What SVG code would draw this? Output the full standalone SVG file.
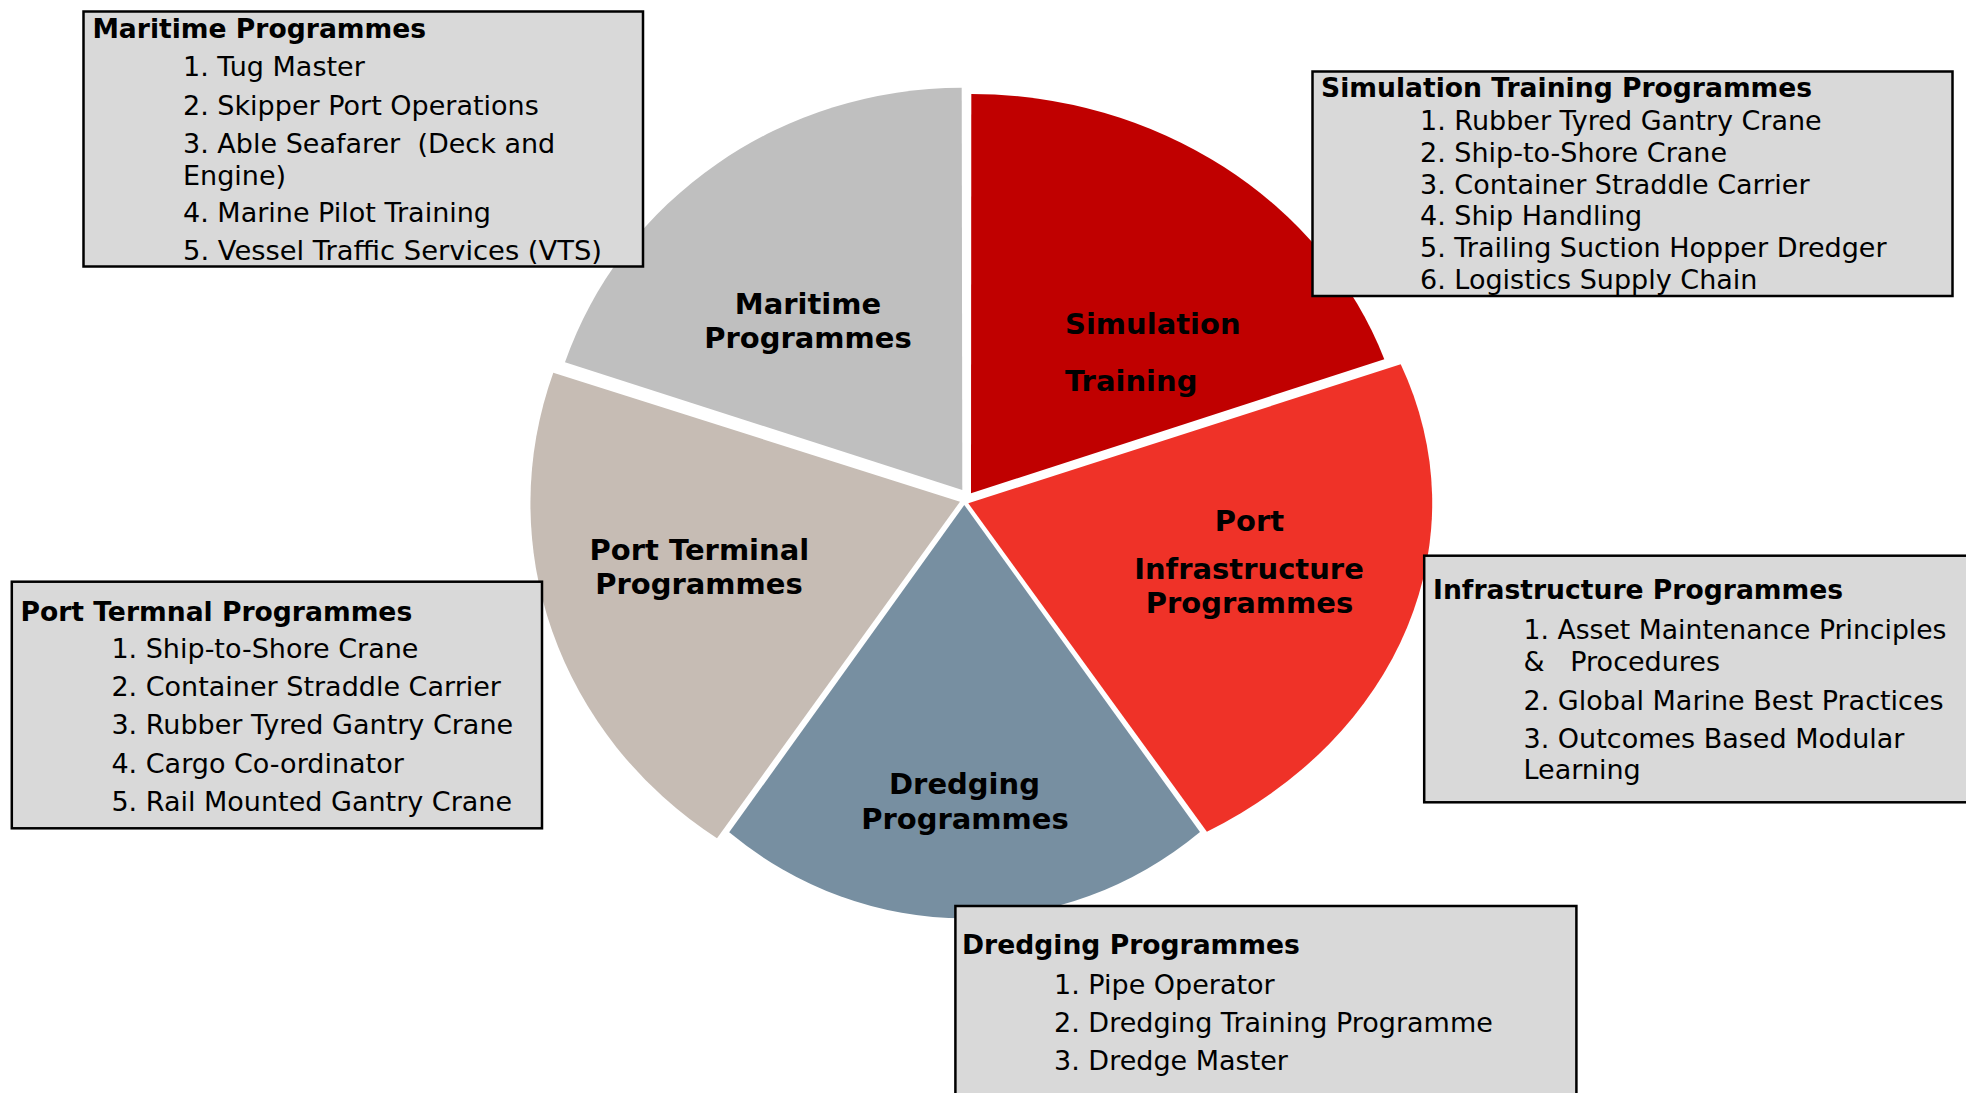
<svg xmlns="http://www.w3.org/2000/svg" width="1966" height="1093" viewBox="0 0 1966 1093">
<style>
.box{fill:#D9D9D9;stroke:#000;stroke-width:2.5}
.t{font-family:"DejaVu Sans","Verdana",sans-serif;font-size:27px;fill:#000}
.h{font-family:"DejaVu Sans","Verdana",sans-serif;font-size:26.6px;font-weight:bold;fill:#000}
.pl{font-family:"DejaVu Sans","Verdana",sans-serif;font-size:29px;font-weight:bold;fill:#000;text-anchor:middle}
</style>
<rect width="1966" height="1093" fill="#fff"/>
<g id="pie">
<g id="slice-maritime">
<path d="M962.3,490 L565,362.3 A419,402.3 0 0 1 961.7,87.7 Z" fill="#BFBFBF"/>
<text class="pl" x="808" y="314">Maritime</text>
<text class="pl" x="808" y="347.5">Programmes</text>
</g>
<g id="slice-simulation">
<path d="M971,493.3 L971.3,94 A438.7,399.3 0 0 1 1384.3,359.3 Z" fill="#C00000"/>
<text class="pl" x="1065" y="334" style="text-anchor:start">Simulation</text>
<text class="pl" x="1065" y="390.5" style="text-anchor:start">Training</text>
</g>
<g id="slice-infrastructure">
<path d="M968.3,503.3 L1400.7,364.3 A463.4,383 0 0 1 1206.9,831.7 Z" fill="#EF3228"/>
<text class="pl" x="1249.5" y="531">Port</text>
<text class="pl" x="1249" y="578.5">Infrastructure</text>
<text class="pl" x="1249.5" y="613">Programmes</text>
</g>
<g id="slice-dredging">
<path d="M964.3,505 L1200,832 A385.3,413.3 0 0 1 729.2,832.3 Z" fill="#778FA1"/>
<text class="pl" x="964.5" y="794">Dredging</text>
<text class="pl" x="965" y="828.5">Programmes</text>
</g>
<g id="slice-terminal">
<path d="M960,501.7 L717,838.3 A429.3,406 0 0 1 553.3,372.7 Z" fill="#C6BCB4"/>
<text class="pl" x="699.4" y="559.8">Port Terminal</text>
<text class="pl" x="699" y="594.2">Programmes</text>
</g>
</g>
<g id="box-maritime">
<rect class="box" x="83.5" y="11.5" width="559.5" height="255"/>
<text class="h" x="92.4" y="37.5">Maritime Programmes</text>
<text class="t" x="183" y="76">1. Tug Master</text>
<text class="t" x="183" y="114.5">2. Skipper Port Operations</text>
<text class="t" x="183" y="152.5" xml:space="preserve">3. Able Seafarer  (Deck and</text>
<text class="t" x="183" y="184.5">Engine)</text>
<text class="t" x="183" y="222">4. Marine Pilot Training</text>
<text class="t" x="183" y="260" textLength="419" lengthAdjust="spacingAndGlyphs">5. Vessel Traffic Services (VTS)</text>
</g>
<g id="box-simulation">
<rect class="box" x="1312.5" y="71.5" width="640" height="224.5"/>
<text class="h" x="1321" y="97">Simulation Training Programmes</text>
<text class="t" x="1420" y="130">1. Rubber Tyred Gantry Crane</text>
<text class="t" x="1420" y="161.8">2. Ship-to-Shore Crane</text>
<text class="t" x="1420" y="193.6">3. Container Straddle Carrier</text>
<text class="t" x="1420" y="225.4">4. Ship Handling</text>
<text class="t" x="1420" y="257.2">5. Trailing Suction Hopper Dredger</text>
<text class="t" x="1420" y="289">6. Logistics Supply Chain</text>
</g>
<g id="box-infrastructure">
<rect class="box" x="1424.2" y="555.7" width="560" height="246.6"/>
<text class="h" x="1433" y="599.3">Infrastructure Programmes</text>
<text class="t" x="1523.5" y="639" textLength="423" lengthAdjust="spacingAndGlyphs">1. Asset Maintenance Principles</text>
<text class="t" x="1523.5" y="671" xml:space="preserve">&amp;   Procedures</text>
<text class="t" x="1523.5" y="709.5">2. Global Marine Best Practices</text>
<text class="t" x="1523.5" y="748">3. Outcomes Based Modular</text>
<text class="t" x="1523.5" y="779">Learning</text>
</g>
<g id="box-terminal">
<rect class="box" x="11.8" y="581.7" width="530.2" height="246.6"/>
<text class="h" x="20.4" y="620.5">Port Termnal Programmes</text>
<text class="t" x="111.4" y="657.5">1. Ship-to-Shore Crane</text>
<text class="t" x="111.4" y="696">2. Container Straddle Carrier</text>
<text class="t" x="111.4" y="734.3">3. Rubber Tyred Gantry Crane</text>
<text class="t" x="111.4" y="772.7">4. Cargo Co-ordinator</text>
<text class="t" x="111.4" y="811">5. Rail Mounted Gantry Crane</text>
</g>
<g id="box-dredging">
<rect class="box" x="955.4" y="906" width="621" height="200"/>
<text class="h" x="962" y="953.5">Dredging Programmes</text>
<text class="t" x="1054" y="993.5">1. Pipe Operator</text>
<text class="t" x="1054" y="1032">2. Dredging Training Programme</text>
<text class="t" x="1054" y="1070">3. Dredge Master</text>
</g>
<g id="connectors"/>
</svg>
